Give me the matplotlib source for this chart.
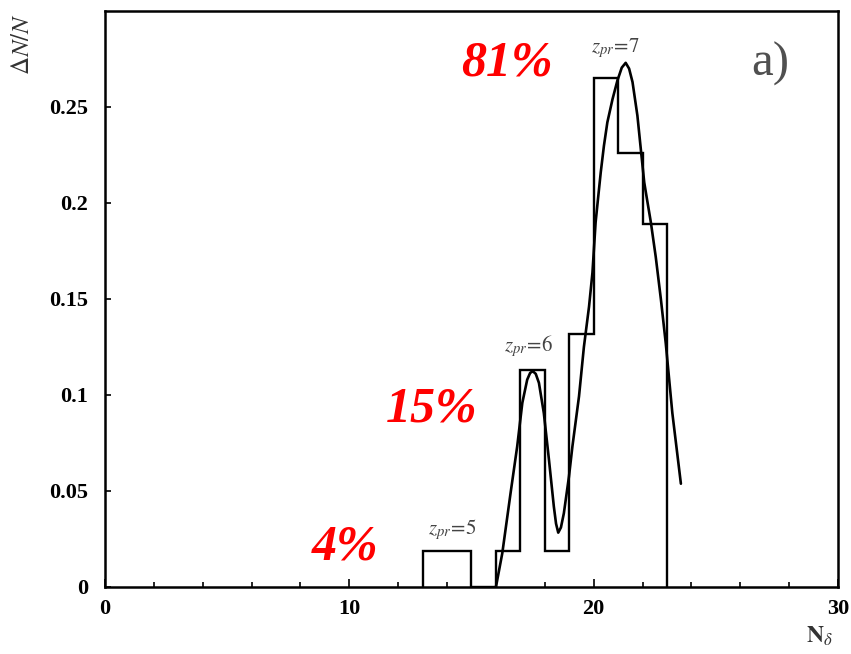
import matplotlib
matplotlib.use('Agg')
import matplotlib.pyplot as plt
from matplotlib.ticker import FixedLocator, MultipleLocator

# ---- data ----
bin_edges = [13, 14, 15, 16, 17, 18, 19, 20, 21, 22, 23]
bin_values = [0.019, 0.019, 0.0, 0.019, 0.113, 0.019, 0.132, 0.265, 0.226, 0.189]

fit_x = [16.0, 16.26, 16.6, 16.87, 17.08, 17.28, 17.4, 17.51, 17.63, 17.76, 17.96,
         18.17, 18.37, 18.46, 18.55, 18.66, 18.78, 18.99, 19.13, 19.4, 19.6, 19.81,
         19.95, 20.08, 20.19, 20.29, 20.42, 20.56, 20.77, 20.97, 21.15, 21.31, 21.45,
         21.59, 21.79, 21.93, 22.07, 22.16, 22.34, 22.54, 22.75, 22.95, 23.22, 23.57]
fit_y = [0.0, 0.0176, 0.049, 0.0732, 0.0959, 0.108, 0.1115, 0.1124, 0.111, 0.1063, 0.0906,
         0.0663, 0.0419, 0.033, 0.0283, 0.031, 0.0384, 0.0576, 0.0732, 0.0993, 0.125, 0.146,
         0.1637, 0.190, 0.2037, 0.216, 0.2298, 0.242, 0.254, 0.2637, 0.2705, 0.273, 0.270,
         0.263, 0.2455, 0.228, 0.2107, 0.2037, 0.190, 0.172, 0.150, 0.127, 0.0906, 0.0538]

x_ticks = [0, 10, 20, 30]
x_tick_labels = ['0', '10', '20', '30']
y_ticks = [0, 0.05, 0.1, 0.15, 0.2, 0.25]
y_tick_labels = ['0', '0.05', '0.1', '0.15', '0.2', '0.25']

share_labels = ['4%', '15%', '81%']
z_labels = [r'$z_{pr}\!=\!5$', r'$z_{pr}\!=\!6$', r'$z_{pr}\!=\!7$']
panel_label = 'a)'
y_label = r'$\Delta N/N$'
x_label = r'$\mathbf{N}_{\delta}$'

# ---- figure ----
plt.rcParams['mathtext.fontset'] = 'stix'
plt.rcParams['font.family'] = ['Liberation Serif', 'DejaVu Serif']

W, H = 851, 654
fig = plt.figure(figsize=(W / 100, H / 100), dpi=100)
fig.patch.set_facecolor('white')

def fx(px):
    return px / W

def fy(py):
    return 1 - py / H

ax = fig.add_axes([fx(105), fy(587), (838 - 105) / W, (587 - 11) / H])

ax.stairs(bin_values, bin_edges, baseline=0, fill=False, color='black', lw=1.7)
ax.plot(fit_x, fit_y, color='black', lw=1.9, solid_joinstyle='round', solid_capstyle='round')

ax.set_xlim(0, 30)
ax.set_ylim(0, 0.30)

ax.xaxis.set_major_locator(FixedLocator(x_ticks))
ax.set_xticklabels(x_tick_labels)
ax.xaxis.set_minor_locator(MultipleLocator(2))
ax.yaxis.set_major_locator(FixedLocator(y_ticks))
ax.set_yticklabels(y_tick_labels)

ax.tick_params(axis='x', which='major', direction='in', length=6, width=1.2, pad=9)
ax.tick_params(axis='x', which='minor', direction='in', length=3.5, width=1.2)
ax.tick_params(axis='y', which='major', direction='in', length=4.5, width=1.2, pad=12)
for lab in ax.get_xticklabels() + ax.get_yticklabels():
    lab.set_fontweight('bold')
    lab.set_fontsize(16)
    lab.set_fontfamily('Liberation Serif')

for sp in ax.spines.values():
    sp.set_linewidth(1.8)

# axis labels
fig.text(fx(23), fy(44), y_label, rotation=90, fontsize=18, color='#333333',
         ha='center', va='center')
fig.text(fx(820), fy(636), x_label, fontsize=17, color='#333333', ha='center', va='center')

# share annotations (red bold italic)
share_pos = [(345, 547), (432, 410), (507, 63)]
for t, (px, py) in zip(share_labels, share_pos):
    fig.text(fx(px), fy(py), t, color='#ff0000', fontsize=36, fontweight='bold',
             fontstyle='italic', ha='center', va='center')

# z labels
z_pos = [(452, 530), (529, 346), (615, 48)]
for t, (px, py) in zip(z_labels, z_pos):
    fig.text(fx(px), fy(py), t, color='#444444', fontsize=15, ha='center', va='center',
             fontstyle='italic')

# panel label
fig.text(fx(770), fy(64), panel_label, color='#505050', fontsize=35, ha='center', va='center')

fig.savefig('out.png', dpi=100, facecolor='white')
